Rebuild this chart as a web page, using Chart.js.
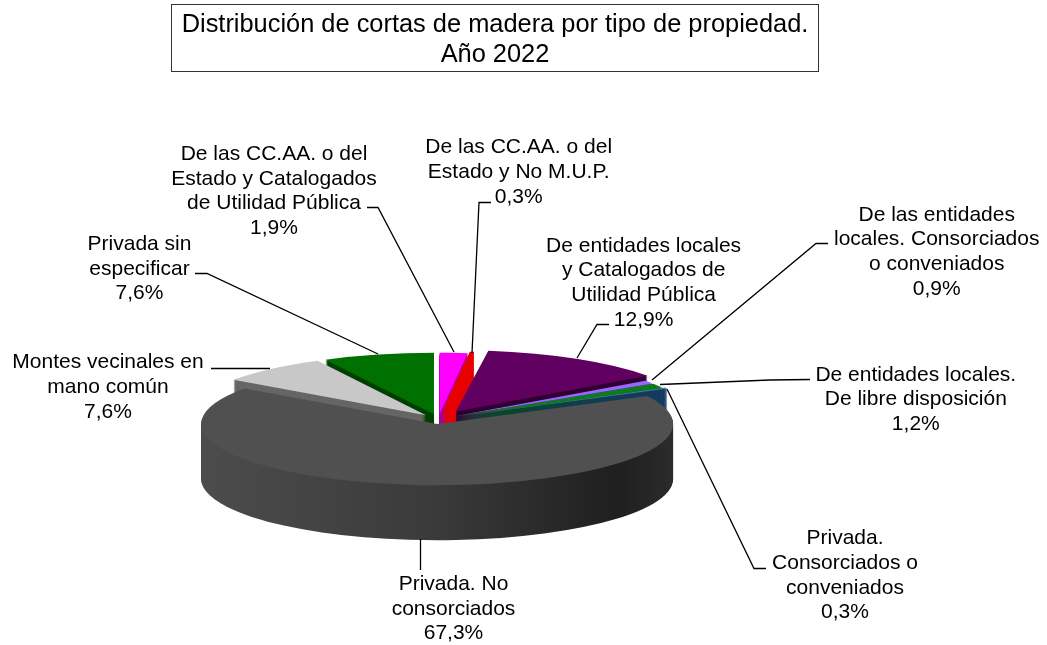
<!DOCTYPE html>
<html lang="es">
<head>
<meta charset="utf-8">
<title>Distribución de cortas de madera</title>
<script src="https://cdn.jsdelivr.net/npm/chart.js@4"></script>
<style>
  html, body { margin: 0; padding: 0; background: #fff; }
  canvas { display: block; }
</style>
</head>
<body>
<canvas id="pie" width="1047" height="645"></canvas>
<script>
// ── Data ──────────────────────────────────────────────
var categories = [
  ['De las CC.AA. o del', 'Estado y Catalogados', 'de Utilidad Pública'],
  ['De las CC.AA. o del', 'Estado y No M.U.P.'],
  ['De entidades locales', 'y Catalogados de', 'Utilidad Pública'],
  ['De las entidades', 'locales. Consorciados', 'o conveniados'],
  ['De entidades locales.', 'De libre disposición'],
  ['Privada.', 'Consorciados o', 'conveniados'],
  ['Privada. No', 'consorciados'],
  ['Montes vecinales en', 'mano común'],
  ['Privada sin', 'especificar']
];
var values = [1.9, 0.3, 12.9, 0.9, 1.2, 0.3, 67.3, 7.6, 7.6];
var titleLines = ['Distribución de cortas de madera por tipo de propiedad.', 'Año 2022'];

// ── Styles ────────────────────────────────────────────
var topColors  = ['#ff00ff', '#e80000', '#600060', '#9966ff', '#0b7d1c', '#3f7f9f', '#505050', '#c8c8c8', '#007000'];
var sideColors = ['#a000a0', '#e80000', '#2e002e', '#5a3c9a', '#0a4a14', '#153a66', null, '#666666', '#004000'];
var explode    = [19, 25, 33.5, 18, 18, 21, 19, 19, 19];
var drawOrder  = [8, 7, 0, 1, 2, 3, 4, 5, 6];   // back to front

// label centre x, first baseline y, and leader polyline
var labelLayout = [
  { x: 274,   y: 160,   line: [[367, 207.5], [378, 207.5], [454, 352]] },
  { x: 518.7, y: 153.3, line: [[491, 202.5], [479, 202.5], [472, 353]] },
  { x: 643.6, y: 251.7, line: [[609, 324.5], [597, 324.5], [577, 358]] },
  { x: 936.7, y: 220.7, line: [[828, 243.5], [816, 243.5], [652, 380]] },
  { x: 915.8, y: 380.7, line: [[810, 379.5], [770, 380], [660, 384.5]] },
  { x: 845,   y: 544.3, line: [[766, 568.5], [754, 568.5], [667, 389]] },
  { x: 453.5, y: 590,   line: [[420.5, 539], [420.5, 570]] },
  { x: 108,   y: 368.3, line: [[211, 368.5], [270, 368.5]] },
  { x: 139.5, y: 250,   line: [[195, 273.5], [207, 273.5], [378, 354]] }
];

var FONT = '"Liberation Sans", Arial, sans-serif';
var PIE_Y = 419;       // screen y of the pie centre
var TILT = 0.26;       // vertical squash of the pie
var DEPTH = 55;        // height of the extruded side

function percent(v) {
  return v.toFixed(1).replace('.', ',') + '%';
}

// ── 3D pie: squash the arcs and sweep them downwards ──
var pie3d = {
  id: 'pie3d',
  beforeDatasetDraw: function (chart, args) {
    var ctx = chart.ctx;
    drawOrder.forEach(function (i) {
      var arc = args.meta.data[i];
      var p = arc.getProps(['x', 'y', 'startAngle', 'endAngle', 'outerRadius']);
      var mid = (p.startAngle + p.endAngle) / 2;
      var dx = Math.cos(mid) * explode[i];
      var dy = Math.sin(mid) * explode[i];

      var fill = sideColors[i];
      if (!fill) {
        fill = ctx.createLinearGradient(p.x - p.outerRadius, 0, p.x + p.outerRadius, 0);
        fill.addColorStop(0, '#4c4c4c');
        fill.addColorStop(0.5, '#3a3a3a');
        fill.addColorStop(0.88, '#1f1f1f');
        fill.addColorStop(1, '#2b2b2b');
      }

      for (var d = DEPTH; d >= 1; d--) {
        ctx.save();
        ctx.translate(dx, PIE_Y + d);
        ctx.scale(1, TILT);
        ctx.translate(0, dy - p.y);
        ctx.beginPath();
        ctx.moveTo(p.x, p.y);
        ctx.arc(p.x, p.y, p.outerRadius, p.startAngle, p.endAngle);
        ctx.closePath();
        ctx.fillStyle = fill;
        ctx.fill();
        ctx.restore();
      }

      ctx.save();
      ctx.translate(dx, PIE_Y);
      ctx.scale(1, TILT);
      ctx.translate(0, dy - p.y);
      arc.draw(ctx);
      ctx.restore();
    });
    return false;
  },
  afterDraw: function (chart) {
    var ctx = chart.ctx;
    ctx.save();
    ctx.textAlign = 'center';
    ctx.textBaseline = 'alphabetic';
    ctx.fillStyle = '#000';

    // title box
    ctx.strokeStyle = '#333';
    ctx.lineWidth = 1;
    ctx.strokeRect(171.5, 4.5, 647, 67);
    ctx.font = '25.4px ' + FONT;
    ctx.fillText(titleLines[0], 495, 32.3);
    ctx.fillText(titleLines[1], 495, 61.7);

    // slice labels and leaders
    ctx.font = '21px ' + FONT;
    ctx.strokeStyle = '#000';
    ctx.lineWidth = 1.3;
    labelLayout.forEach(function (l, i) {
      categories[i].concat(percent(values[i])).forEach(function (txt, n) {
        ctx.fillText(txt, l.x, l.y + n * 24.7);
      });
      ctx.beginPath();
      l.line.forEach(function (pt, n) {
        if (n === 0) ctx.moveTo(pt[0], pt[1]);
        else ctx.lineTo(pt[0], pt[1]);
      });
      ctx.stroke();
    });
    ctx.restore();
  }
};

// ── Chart ─────────────────────────────────────────────
new Chart(document.getElementById('pie'), {
  type: 'pie',
  data: {
    labels: categories,
    datasets: [{
      data: values,
      backgroundColor: topColors,
      borderWidth: 0,
      radius: 236
    }]
  },
  options: {
    responsive: false,
    animation: false,
    events: [],
    layout: { padding: { right: 170 } },
    plugins: { legend: { display: false }, tooltip: { enabled: false } }
  },
  plugins: [pie3d]
});
</script>
</body>
</html>
